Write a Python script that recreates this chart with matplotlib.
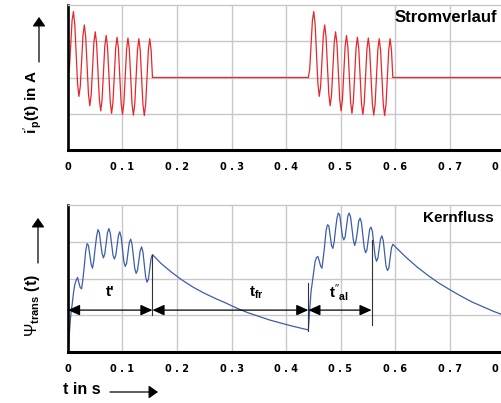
import matplotlib
matplotlib.use('Agg')
import matplotlib.pyplot as plt
import numpy as np

plt.rcParams['font.family'] = 'Liberation Sans'
plt.rcParams['mathtext.fontset'] = 'custom'
plt.rcParams['mathtext.rm'] = 'Liberation Sans'
plt.rcParams['mathtext.bf'] = 'Liberation Sans:bold'
plt.rcParams['mathtext.it'] = 'Liberation Sans:italic'

# Abtastschritt der Stromstoesse in s (1/8 Periode bei 50 Hz)
dt = 0.0025
t_start2 = 0.441          # Beginn des zweiten Stromstosses
t_ende = 0.9

# Magnetisierungsstrom waehrend eines Stromstosses (beide gleich)
i_burst = [0, 0.23, 0.90, 1.58, 1.82, 1.45, 0.64, -0.16, -0.52, -0.25,
           0.46, 1.17, 1.45, 1.11, 0.33, -0.45, -0.78, -0.49, 0.24, 0.97,
           1.26, 0.93, 0.17, -0.59, -0.92, -0.62, 0.12, 0.86, 1.16, 0.84,
           0.09, -0.67, -0.99, -0.68, 0.06, 0.81, 1.11, 0.80, 0.04, -0.71,
           -1.02, -0.71, 0.03, 0.78, 1.09, 0.78, 0.02, -0.73, -1.04, -0.73,
           0.02, 0.76, 1.07, 0.76, 0.01, -0.74, -1.05, -0.74, 0.01, 0.76,
           1.07, 0.76, 0]

# Kernfluss waehrend des ersten und zweiten Stromstosses
psi_burst1 = [0, 0.50, 1.00, 1.28, 1.60, 1.84, 1.95, 2.03, 1.88, 1.75,
              1.72, 2.00, 2.35, 2.75, 2.95, 2.90, 2.63, 2.38, 2.28, 2.50,
              2.85, 3.15, 3.33, 3.25, 2.95, 2.68, 2.56, 2.67, 2.96, 3.25,
              3.36, 3.24, 2.94, 2.64, 2.53, 2.62, 2.88, 3.17, 3.27, 3.13,
              2.80, 2.46, 2.33, 2.41, 2.70, 2.98, 3.07, 2.93, 2.60, 2.27,
              2.14, 2.22, 2.49, 2.76, 2.86, 2.72, 2.38, 2.04, 1.90, 1.98,
              2.27, 2.55, 2.65]
psi_burst2 = [0.60, 1.16, 1.65, 1.93, 2.23, 2.47, 2.57, 2.60, 2.48, 2.34,
              2.28, 2.58, 2.91, 3.30, 3.46, 3.44, 3.16, 2.90, 2.82, 3.01,
              3.35, 3.64, 3.78, 3.73, 3.43, 3.15, 3.05, 3.13, 3.41, 3.70,
              3.78, 3.67, 3.36, 3.06, 2.90, 3.03, 3.28, 3.57, 3.64, 3.52,
              3.18, 2.84, 2.70, 2.78, 3.06, 3.34, 3.40, 3.28, 2.94, 2.61,
              2.47, 2.55, 2.81, 3.08, 3.16, 3.03, 2.68, 2.34, 2.22, 2.27,
              2.55, 2.83, 2.93]

# Abklingen des Flusses in den stromlosen Pausen
t_decay1 = [0.17, 0.19, 0.21, 0.23, 0.25, 0.27, 0.29, 0.31, 0.33, 0.35,
            0.37, 0.39, 0.41, 0.43]
psi_decay1 = [2.42, 2.17, 1.95, 1.76, 1.60, 1.46, 1.33, 1.19, 1.07, 0.97,
              0.87, 0.79, 0.71, 0.64]
t_decay2 = [0.62, 0.64, 0.66, 0.68, 0.70, 0.72, 0.74, 0.76, 0.78, 0.80,
            0.82, 0.84, 0.86, 0.88, 0.90]
psi_decay2 = [2.58, 2.32, 2.09, 1.88, 1.70, 1.53, 1.37, 1.24, 1.11, 1.00,
              0.90, 0.81, 0.73, 0.66, 0.59]

# Zeitmarken fuer t', t_fr, t''_al
t_marken = [0, 0.155, t_start2, 0.557]
pfeil_hoehe = 1.14
linie_unten = [1.00, 0.58, 0.73]
linie_oben = [2.65, 1.87, 3.05]

xtick_werte = [0, 0.1, 0.2, 0.3, 0.4, 0.5, 0.6, 0.7, 0.8]
xtick_text = ['0', '0 . 1', '0 . 2', '0 . 3', '0 . 4', '0 . 5', '0 . 6',
              '0 . 7', '0 . 8']

t_b = np.arange(len(i_burst)) * dt
t_strom = np.concatenate([t_b, t_b + t_start2, [t_ende]])
strom = np.concatenate([i_burst, i_burst, [0]])
t_fluss = np.concatenate([t_b, t_decay1, t_b + t_start2, t_decay2])
fluss = np.concatenate([psi_burst1, psi_decay1, psi_burst2, psi_decay2])

fig = plt.figure(figsize=(5.02, 4.03), dpi=100)
ax1 = fig.add_axes([68 / 502, 1 - 150 / 403, 490.5 / 502, 145 / 403])
ax2 = fig.add_axes([68 / 502, 1 - 352 / 403, 490.5 / 502, 147 / 403])


def achse_stylen(ax, ylim, yticks):
    ax.set_xlim(0, t_ende)
    ax.set_ylim(*ylim)
    ax.set_xticks(xtick_werte)
    ax.set_xticklabels(xtick_text, fontfamily='DejaVu Sans',
                       fontweight='bold', fontsize=7)
    ax.set_yticks(yticks)
    ax.set_yticklabels([])
    ax.tick_params(length=0, axis='x', pad=9)
    ax.tick_params(length=0, axis='y')
    ax.grid(True, color='#c8c8c8', lw=1.0)
    ax.set_axisbelow(True)
    ax.spines['left'].set_linewidth(1.9)
    ax.spines['bottom'].set_linewidth(2.2)
    ax.spines['top'].set_color('#c8c8c8')
    ax.spines['top'].set_linewidth(1.0)
    ax.spines['right'].set_visible(False)


achse_stylen(ax1, (-2, 2), [-1, 0, 1])
achse_stylen(ax2, (0, 4), [1, 2, 3])

ax1.plot(t_strom, strom, color='#e8262b', lw=0.9)
ax2.plot(t_fluss, fluss, color='#3c5daa', lw=0.9)

# Markierungslinien und Pfeile im Flussdiagramm
for tm, yu, yo in zip(t_marken[1:], linie_unten, linie_oben):
    ax2.plot([tm, tm], [yu, yo], color='#333333', lw=0.8)
for ta, tb in zip(t_marken[:-1], t_marken[1:]):
    ax2.annotate('', xy=(tb, pfeil_hoehe), xytext=(ta, pfeil_hoehe),
                 arrowprops=dict(arrowstyle='<|-|>,head_length=0.4,head_width=0.18',
                                 mutation_scale=18, color='black', lw=0.9,
                                 shrinkA=0, shrinkB=0))

ax2.text(0.077, 1.64, "t'", fontsize=11, fontweight='bold', ha='center', va='center')
ax2.text(0.345, 1.60, r'$\mathbf{t}_{\mathbf{fr}}$', fontsize=11, ha='center', va='center')
ax2.text(0.497, 1.62, r"$\mathbf{t}''_{\mathbf{al}}$", fontsize=11, ha='center', va='center')

# Titel in den Diagrammen
fig.text(497 / 502, 1 - 18 / 403, 'Stromverlauf', fontsize=12, fontweight='bold',
         ha='right', va='center')
fig.text(494 / 502, 1 - 218 / 403, 'Kernfluss', fontsize=11, fontweight='bold',
         ha='right', va='center')

# Achsenbeschriftungen mit Pfeilen
fig.text(33 / 502, 1 - 102 / 403, r"$\mathbf{i}'_{\mathbf{p}}\mathbf{(t)\ in\ A}$",
         fontsize=11, rotation=90, ha='center', va='center')
fig.text(33 / 502, 1 - 306 / 403, r'$\Psi_{\mathbf{trans}}\ \mathbf{(t)}$',
         fontsize=11.5, rotation=90, ha='center', va='center')
fig.text(63 / 502, 1 - 390 / 403, 't in s', fontsize=11.5, fontweight='bold',
         ha='left', va='center')

pfeil = dict(arrowstyle='-|>,head_length=0.4,head_width=0.28', mutation_scale=14,
             color='black', lw=0.9, shrinkA=0, shrinkB=0)
fig.add_artist(matplotlib.patches.FancyArrowPatch(
    (39 / 502, 1 - 62 / 403), (39 / 502, 1 - 17 / 403), transform=fig.transFigure, **pfeil))
fig.add_artist(matplotlib.patches.FancyArrowPatch(
    (38 / 502, 1 - 263 / 403), (38 / 502, 1 - 218 / 403), transform=fig.transFigure, **pfeil))
fig.add_artist(matplotlib.patches.FancyArrowPatch(
    (110 / 502, 1 - 392 / 403), (158 / 502, 1 - 392 / 403), transform=fig.transFigure, **pfeil))

plt.savefig('out.png', dpi=100)
plt.close()
